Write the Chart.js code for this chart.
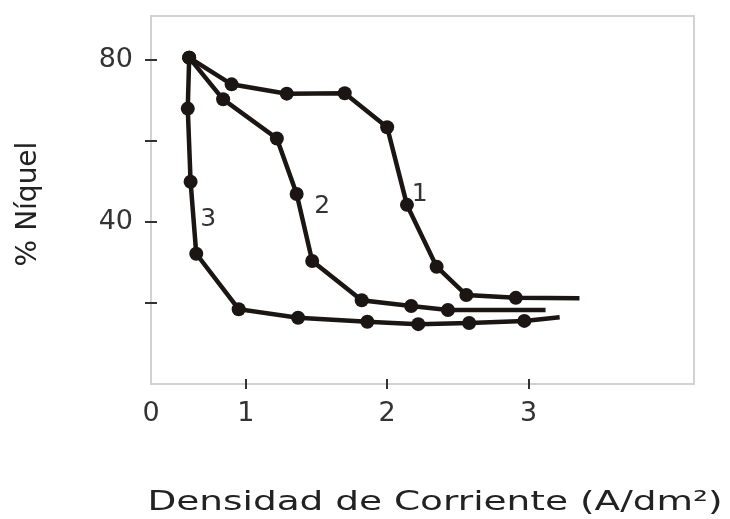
<!DOCTYPE html>
<html>
<head>
<meta charset="utf-8">
<script src="https://cdn.jsdelivr.net/npm/chart.js@4/dist/chart.umd.min.js"></script>
<style>
  html, body { margin: 0; padding: 0; background: #fff; }
  #wrap { width: 730px; height: 519px; }
</style>
</head>
<body>
<div id="wrap"><canvas id="chart" width="730" height="519"></canvas></div>
<script>
// axis ranges (the origin label "0" sits at the left edge of the box)
const X_MIN = 0.33, X_MAX = 4.17;
const Y_MIN = 0, Y_MAX = 91;

const xTickValues = [X_MIN, 1, 2, 3];
const xTickLabels = ['0', '1', '2', '3'];
const xTickMarks = [1, 2, 3];
const yTickValues = [20, 40, 60, 80];
const yTickLabels = ['', '40', '', '80'];

const xTitle = 'Densidad de Corriente (A/dm²)';
const yTitle = '% Níquel';

// curve 1
const c1x = [0.60, 0.90, 1.29, 1.70, 2.00, 2.14, 2.35, 2.56, 2.91, 3.36];
const c1y = [80.7, 74.1, 71.8, 71.9, 63.5, 44.3, 29.0, 22.0, 21.3, 21.2];
// curve 2
const c2x = [0.60, 0.84, 1.22, 1.36, 1.47, 1.82, 2.17, 2.43, 3.12];
const c2y = [80.7, 70.4, 60.7, 47.0, 30.4, 20.7, 19.3, 18.3, 18.3];
// curve 3
const c3x = [0.60, 0.59, 0.61, 0.65, 0.95, 1.37, 1.86, 2.22, 2.58, 2.97, 3.22];
const c3y = [80.7, 68.1, 50.0, 32.2, 18.5, 16.4, 15.4, 14.8, 15.1, 15.6, 16.5];

// curve numbers written next to the lines
const curveNames = ['1', '2', '3'];
const curveNameX = [2.23, 1.54, 0.735];
const curveNameY = [46.8, 43.8, 40.6];

const INK = '#1b1613';
const FONT = '"DejaVu Sans", sans-serif';

function toPoints(xs, ys) {
  return xs.map((x, i) => ({ x: x, y: ys[i] }));
}

function curve(label, xs, ys) {
  return {
    label: label,
    data: toPoints(xs, ys),
    borderColor: INK,
    backgroundColor: INK,
    borderWidth: 4.5,
    tension: 0,
    // the tail of every curve runs on without a dot
    pointRadius: ctx => ctx.dataIndex === xs.length - 1 ? 0 : 7,
    pointBorderWidth: 0,
    pointBackgroundColor: INK
  };
}

const decor = {
  id: 'decor',
  afterDraw(chart) {
    const { ctx, chartArea: a, scales: { x, y } } = chart;
    ctx.save();
    // light grey frame
    ctx.strokeStyle = '#d2d2d2';
    ctx.lineWidth = 2;
    ctx.strokeRect(a.left, a.top, a.right - a.left, a.bottom - a.top);
    // short tick marks crossing the axes
    ctx.strokeStyle = '#333';
    ctx.lineWidth = 2;
    yTickValues.forEach(v => {
      const py = Math.round(y.getPixelForValue(v));
      ctx.beginPath(); ctx.moveTo(a.left - 6, py); ctx.lineTo(a.left + 6, py); ctx.stroke();
    });
    xTickMarks.forEach(v => {
      const px = Math.round(x.getPixelForValue(v));
      ctx.beginPath(); ctx.moveTo(px, a.bottom - 5); ctx.lineTo(px, a.bottom + 5); ctx.stroke();
    });
    // curve numbers
    ctx.fillStyle = '#333';
    ctx.font = '25px ' + FONT;
    ctx.textAlign = 'center';
    ctx.textBaseline = 'middle';
    curveNames.forEach((n, i) => {
      ctx.fillText(n, x.getPixelForValue(curveNameX[i]), y.getPixelForValue(curveNameY[i]));
    });
    // axis titles (the original face is a wide geometric sans, so stretch a little)
    ctx.fillStyle = '#222';
    ctx.font = '26px ' + FONT;
    ctx.textBaseline = 'alphabetic';
    ctx.save();
    ctx.translate(435, 510);
    ctx.scale(1.44, 1);
    ctx.fillText(xTitle, 0, 0);
    ctx.restore();
    ctx.save();
    ctx.translate(36, 204);
    ctx.rotate(-Math.PI / 2);
    ctx.font = '28px ' + FONT;
    ctx.fillText(yTitle, 0, 0);
    ctx.restore();
    ctx.restore();
  }
};

new Chart(document.getElementById('chart').getContext('2d'), {
  type: 'scatter',
  data: {
    datasets: [curve('1', c1x, c1y), curve('2', c2x, c2y), curve('3', c3x, c3y)]
  },
  options: {
    responsive: false,
    animation: false,
    showLine: true,
    layout: { padding: { left: 0, top: 16, right: 36, bottom: 0 } },
    plugins: { legend: { display: false }, tooltip: { enabled: false } },
    scales: {
      x: {
        type: 'linear',
        min: X_MIN, max: X_MAX,
        afterBuildTicks: s => { s.ticks = xTickValues.map(v => ({ value: v })); },
        afterFit: s => { s.height = 135; s.paddingLeft = 0; s.paddingRight = 0; },
        grid: { display: false, drawTicks: false },
        border: { display: false },
        ticks: {
          autoSkip: false,
          maxRotation: 0,
          padding: 14,
          color: '#333',
          font: { family: FONT, size: 27 },
          callback: (v, i) => xTickLabels[i]
        }
      },
      y: {
        type: 'linear',
        min: Y_MIN, max: Y_MAX,
        afterBuildTicks: s => { s.ticks = yTickValues.map(v => ({ value: v })); },
        afterFit: s => { s.width = 151; s.paddingTop = 0; s.paddingBottom = 0; },
        grid: { display: false, drawTicks: false },
        border: { display: false },
        ticks: {
          padding: 18,
          color: '#333',
          font: { family: FONT, size: 27 },
          callback: (v, i) => yTickLabels[i]
        }
      }
    }
  },
  plugins: [decor]
});
</script>
</body>
</html>
